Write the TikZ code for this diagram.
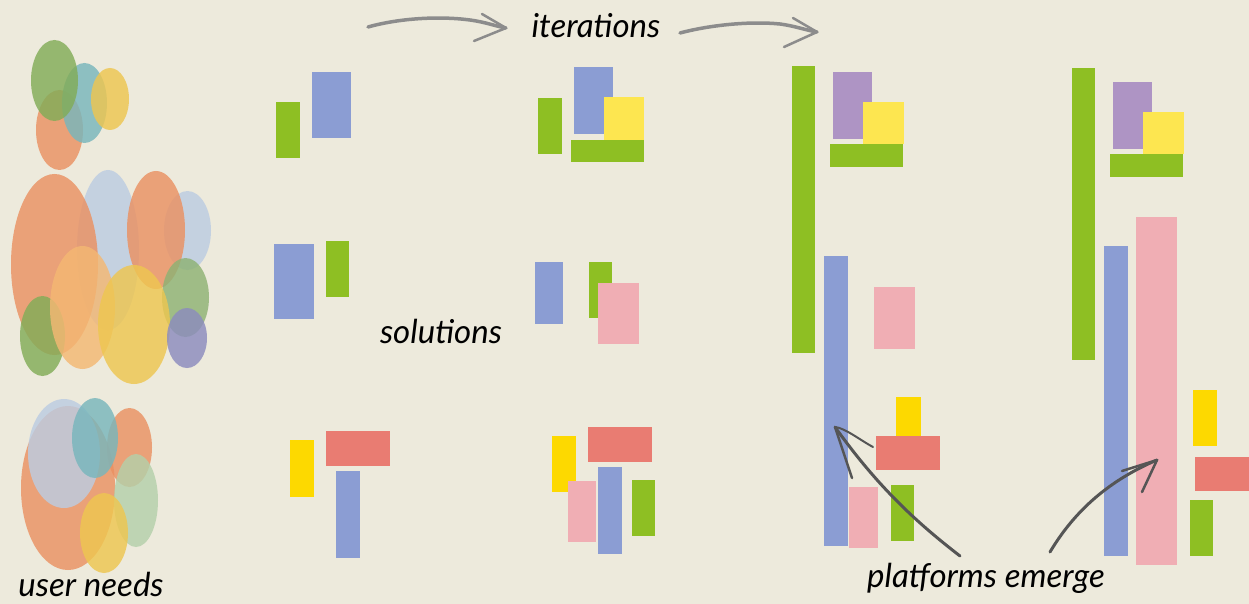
\documentclass[tikz,border=0pt]{standalone}
\usepackage{fontspec}
\setmainfont{Lato}
\usetikzlibrary{shapes.geometric,fit}
\definecolor{bg}{RGB}{237,234,220}
\definecolor{cgreen}{RGB}{142,191,35}
\definecolor{cblue}{RGB}{139,157,211}
\definecolor{cyel}{RGB}{253,230,80}
\definecolor{cgold}{RGB}{253,217,0}
\definecolor{cred}{RGB}{233,124,114}
\definecolor{cpink}{RGB}{240,174,180}
\definecolor{cpurp}{RGB}{174,148,196}
\definecolor{eorange}{RGB}{234,145,98}
\definecolor{egreen}{RGB}{130,172,88}
\definecolor{eteal}{RGB}{120,182,188}
\definecolor{eyel}{RGB}{238,198,80}
\definecolor{eblue}{RGB}{188,204,226}
\definecolor{epeach}{RGB}{244,184,115}
\definecolor{epurp}{RGB}{140,140,190}
\definecolor{esage}{RGB}{180,208,170}
\definecolor{arrowgrey}{RGB}{140,140,140}
\definecolor{arrowdark}{RGB}{85,85,85}
\tikzset{
  blk/.style={inner sep=0pt, outer sep=0pt, draw=none},
  blob/.style={ellipse, inner sep=0pt, draw=none, fill opacity=0.82},
  lbl/.style={font=\fontsize{33}{37}\selectfont\itshape, text=black, inner sep=0pt},
  sketch/.style={line width=3.5pt, line cap=round, line join=round, draw=arrowgrey},
  sketchdark/.style={line width=3pt, line cap=round, line join=round, draw=arrowdark},
}
\begin{document}
\begin{tikzpicture}[x=1pt,y=-1pt]
\path[use as bounding box, fill=bg] (0,0) rectangle (1249,604);

% ---- user needs ellipses: top group
\node[blob, fill=eorange, minimum width=47, minimum height=80] (e1) at (59.5,130) {};
\node[blob, fill=eteal, minimum width=45, minimum height=80] (e2) at (84.5,103) {};
\node[blob, fill=egreen, minimum width=47, minimum height=81] (e3) at (54.5,80.5) {};
\node[blob, fill=eyel, minimum width=38, minimum height=62] (e4) at (110,99) {};

% ---- middle group
\node[blob, fill=eblue, minimum width=62, minimum height=160] (m1) at (108,250) {};
\node[blob, fill=eblue, minimum width=47, minimum height=79] (m2) at (187.5,230.5) {};
\node[blob, fill=eorange, minimum width=87, minimum height=181] (m3) at (54.5,264.5) {};
\node[blob, fill=eorange, minimum width=58, minimum height=118] (m4) at (156,230) {};
\node[blob, fill=egreen, minimum width=45, minimum height=80] (m5) at (42.5,336) {};
\node[blob, fill=epeach, minimum width=65, minimum height=123] (m6) at (82.5,307.5) {};
\node[blob, fill=egreen!80!eblue, minimum width=47, minimum height=79] (m7) at (185.5,297.5) {};
\node[blob, fill=eyel, minimum width=72, minimum height=119] (m8) at (134,324.5) {};
\node[blob, fill=epurp, minimum width=40, minimum height=60] (m9) at (187,338) {};

% ---- bottom group
\node[blob, fill=eorange, minimum width=94, minimum height=164] (b1) at (68,488) {};
\node[blob, fill=eorange, minimum width=45, minimum height=79] (b2) at (129.5,447.5) {};
\node[blob, fill=eblue, minimum width=72, minimum height=109] (b3) at (64,453.5) {};
\node[blob, fill=eteal, minimum width=46, minimum height=80] (b4) at (95,438) {};
\node[blob, fill=esage, minimum width=44, minimum height=93] (b5) at (136,500.5) {};
\node[blob, fill=eyel, minimum width=48, minimum height=80] (b6) at (104,533) {};

\node[lbl] (userneeds) at (91,584) {user needs};

% ---- iteration 1
\node[blk, fill=cgreen, fit={(276,102)(300,158)}] (a1) {};
\node[blk, fill=cblue, fit={(312,72)(351,138)}] (a2) {};
\node[blk, fill=cblue, fit={(274,244)(314,319)}] (a3) {};
\node[blk, fill=cgreen, fit={(326,241)(349,297)}] (a4) {};
\node[blk, fill=cgold, fit={(290,440)(314,497)}] (a5) {};
\node[blk, fill=cred, fit={(326,431)(390,466)}] (a6) {};
\node[blk, fill=cblue, fit={(336,471)(360,558)}] (a7) {};

\node[lbl] (solutions) at (441,331) {solutions};

% ---- iteration 2
\node[blk, fill=cgreen, fit={(538,98)(562,154)}] (c1) {};
\node[blk, fill=cblue, fit={(574,67)(613,134)}] (c2) {};
\node[blk, fill=cyel, fit={(604,97)(644,140)}] (c3) {};
\node[blk, fill=cgreen, fit={(571,140)(644,162)}] (c4) {};
\node[blk, fill=cblue, fit={(535,262)(563,324)}] (c5) {};
\node[blk, fill=cgreen, fit={(589,262)(612,318)}] (c6) {};
\node[blk, fill=cpink, fit={(598,283)(639,344)}] (c7) {};
\node[blk, fill=cgold, fit={(552,436)(576,492)}] (c8) {};
\node[blk, fill=cred, fit={(588,427)(652,462)}] (c9) {};
\node[blk, fill=cpink, fit={(568,481)(596,542)}] (c10) {};
\node[blk, fill=cblue, fit={(598,467)(622,554)}] (c11) {};
\node[blk, fill=cgreen, fit={(632,480)(655,536)}] (c12) {};

% ---- iteration 3
\node[blk, fill=cgreen, fit={(792,66)(815,353)}] (d1) {};
\node[blk, fill=cpurp, fit={(833,72)(872,139)}] (d2) {};
\node[blk, fill=cyel, fit={(863,102)(904,144)}] (d3) {};
\node[blk, fill=cgreen, fit={(830,144)(903,167)}] (d4) {};
\node[blk, fill=cblue, fit={(824,256)(848,546)}] (d5) {};
\node[blk, fill=cpink, fit={(874,287)(915,349)}] (d6) {};
\node[blk, fill=cgold, fit={(896,397)(921,436)}] (d7) {};
\node[blk, fill=cred, fit={(876,436)(940,470)}] (d8) {};
\node[blk, fill=cpink, fit={(849,487)(878,548)}] (d9) {};
\node[blk, fill=cgreen, fit={(891,485)(914,541)}] (d10) {};

% ---- iteration 4
\node[blk, fill=cgreen, fit={(1072,68)(1095,360)}] (f1) {};
\node[blk, fill=cpurp, fit={(1113,82)(1152,149)}] (f2) {};
\node[blk, fill=cyel, fit={(1143,112)(1184,154)}] (f3) {};
\node[blk, fill=cgreen, fit={(1110,154)(1183,177)}] (f4) {};
\node[blk, fill=cblue, fit={(1104,246)(1128,556)}] (f5) {};
\node[blk, fill=cpink, fit={(1136,217)(1177,565)}] (f6) {};
\node[blk, fill=cgold, fit={(1193,390)(1217,446)}] (f7) {};
\node[blk, fill=cred, fit={(1195,457)(1249,491)}] (f8) {};
\node[blk, fill=cgreen, fit={(1190,500)(1213,556)}] (f9) {};

% ---- iterations label and arrows
\node[lbl] (iter) at (596,26) {iterations};
\coordinate (i1s) at (368,27);
\coordinate (i1t) at (506,28);
\coordinate (i2s) at (680,33);
\coordinate (i2t) at (817,32);
\draw[sketch] (i1s) .. controls (400,18) and (440,16) .. (470,20) .. controls (485,22) and (495,26) .. (i1t);
\draw[sketch, line width=2.5pt] (482,14) -- (i1t) -- (474,41);
\draw[sketch] (i2s) .. controls (710,25) and (750,21) .. (780,24) .. controls (795,26) and (805,30) .. (i2t);
\draw[sketch, line width=2.5pt] (793,18) -- (i2t) -- (784,47);

% ---- platforms emerge label and arrows
\node[lbl] (platforms) at (986,578) {platforms emerge};
\coordinate (p1s) at (960,556);
\coordinate (p1t) at (835,427);
\coordinate (p2s) at (1050,552);
\coordinate (p2t) at (1157,460);
\draw[sketchdark] (p1s) .. controls (920,525) and (880,490) .. (p1t);
\draw[sketchdark, line width=2pt] (p1t) .. controls (845,428) and (860,440) .. (873,447);
\draw[sketchdark, line width=2.5pt] (p1t) -- (852,478);
\draw[sketchdark] (p2s) .. controls (1075,510) and (1110,480) .. (p2t);
\draw[sketchdark, line width=2.5pt] (1122,471) -- (p2t) -- (1142,492);
\end{tikzpicture}
\end{document}
